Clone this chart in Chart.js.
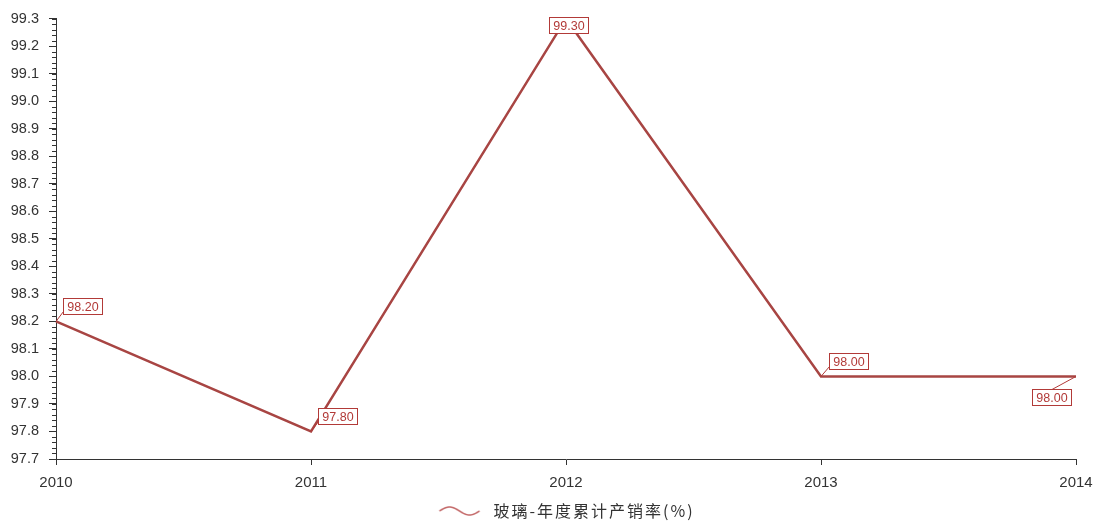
<!DOCTYPE html>
<html>
<head>
<meta charset="utf-8">
<script src="https://cdn.jsdelivr.net/npm/chart.js@4/dist/chart.umd.min.js"></script>
<style>
  html, body { margin: 0; padding: 0; background: #fff; }
  #wrap { width: 1097px; height: 522px; position: relative; }
</style>
</head>
<body>
<div id="wrap"><canvas id="c" width="1097" height="522"></canvas></div>
<script>
// Annual cumulative production-to-sales ratio of glass (%)
const years = ['2010', '2011', '2012', '2013', '2014'];
const salesRatio = [98.2, 97.8, 99.3, 98.0, 98.0];
const seriesName = '玻璃-年度累计产销率(%)';

const yMin = 97.7, yMax = 99.3, yStep = 0.1, yMinorStep = 0.02;

// where each value tag sits relative to its point (dx, dy of box centre)
const tagOffsets = [[26, -15], [26, -15], [2, 6], [27, -15], [-25, 21]];

const lineColor = '#a84543';
const tagColor = '#b23a38';
const axisColor = '#333333';
const baseFont = '"Liberation Sans", Arial, sans-serif';

// wavy legend glyph
function makeWave() {
  const c = document.createElement('canvas');
  c.width = 48; c.height = 14;
  const g = c.getContext('2d');
  g.strokeStyle = '#c46a6a';
  g.lineWidth = 1.6;
  g.beginPath();
  for (let x = 2; x <= 42; x++) {
    const y = 7 - 4 * Math.sin((x - 2) / 40 * Math.PI * 2);
    if (x === 2) g.moveTo(x, y); else g.lineTo(x, y);
  }
  g.stroke();
  return c;
}

// a little letter spacing for the legend text only
const legendSpacing = {
  id: 'legendSpacing',
  afterInit(chart) {
    const lg = chart.legend;
    if (!lg) return;
    const wrap = fn => function (...args) {
      const ctx = this.ctx;
      ctx.save();
      ctx.letterSpacing = '2px';
      const r = fn.apply(this, args);
      ctx.restore();
      return r;
    };
    lg.fit = wrap(lg.fit);
    lg.draw = wrap(lg.draw);
  }
};

const minorTicks = {
  id: 'minorTicks',
  afterDraw(chart) {
    const y = chart.scales.y;
    const ctx = chart.ctx;
    ctx.save();
    ctx.strokeStyle = axisColor;
    ctx.lineWidth = 1;
    const n = Math.round((yMax - yMin) / yMinorStep);
    for (let i = 0; i <= n; i++) {
      const py = Math.round(y.getPixelForValue(yMin + i * yMinorStep)) + 0.5;
      ctx.beginPath();
      ctx.moveTo(y.right - 4, py);
      ctx.lineTo(y.right, py);
      ctx.stroke();
    }
    ctx.restore();
  }
};

const valueTags = {
  id: 'valueTags',
  afterDatasetsDraw(chart) {
    const ctx = chart.ctx;
    const meta = chart.getDatasetMeta(0);
    const data = chart.data.datasets[0].data;
    ctx.save();
    ctx.font = '12.5px ' + baseFont;
    ctx.textAlign = 'center';
    ctx.textBaseline = 'middle';
    meta.data.forEach((pt, i) => {
      const text = data[i].toFixed(2);
      const [dx, dy] = tagOffsets[i];
      const cx = pt.x + dx, cy = pt.y + dy;
      const w = Math.ceil(ctx.measureText(text).width) + 7;
      const h = 16;
      const bx = Math.round(cx - w / 2) + 0.5, by = Math.round(cy - h / 2) + 0.5;
      // leader from the point to the box
      if (Math.abs(dx) > 8) {
        const lx = dx > 0 ? bx : bx + w / 2;
        const ly = dy < 0 ? by + h - 3 : by;
        ctx.strokeStyle = tagColor;
        ctx.lineWidth = 1;
        ctx.beginPath();
        ctx.moveTo(pt.x, pt.y);
        ctx.lineTo(lx, ly);
        ctx.stroke();
      }
      ctx.fillStyle = '#ffffff';
      ctx.fillRect(bx, by, w, h);
      ctx.strokeStyle = tagColor;
      ctx.lineWidth = 1;
      ctx.strokeRect(bx, by, w, h);
      ctx.fillStyle = tagColor;
      ctx.fillText(text, bx + w / 2, by + h / 2 + 1);
    });
    ctx.restore();
  }
};

new Chart(document.getElementById('c'), {
  type: 'line',
  data: {
    labels: years,
    datasets: [{
      label: seriesName,
      data: salesRatio,
      borderColor: lineColor,
      backgroundColor: lineColor,
      borderWidth: 2.5,
      tension: 0,
      pointRadius: 0,
      pointHoverRadius: 0,
      pointStyle: makeWave()
    }]
  },
  options: {
    responsive: false,
    animation: false,
    events: [],
    layout: { padding: { left: 0, right: 21, top: 17, bottom: -7 } },
    plugins: {
      tooltip: { enabled: false },
      legend: {
        position: 'bottom',
        fullSize: false,
        labels: {
          usePointStyle: true,
          pointStyleWidth: 48,
          color: axisColor,
          font: { family: '"Noto Sans CJK SC", ' + baseFont, size: 16 },
          padding: 3,
          boxHeight: 14
        }
      }
    },
    scales: {
      x: {
        type: 'category',
        offset: false,
        grid: { display: true, drawOnChartArea: false, drawTicks: true, tickLength: 6, color: axisColor },
        border: { display: true, color: axisColor, width: 1 },
        ticks: { color: axisColor, font: { family: baseFont, size: 15 }, padding: 9, maxRotation: 0 },
        afterFit(s) { s.height = 41; s.paddingLeft = 0; s.paddingRight = 0; }
      },
      y: {
        min: yMin,
        max: yMax,
        grid: { display: true, drawOnChartArea: false, drawTicks: true, tickLength: 7, color: axisColor },
        border: { display: true, color: axisColor, width: 1 },
        ticks: {
          stepSize: yStep,
          color: axisColor,
          font: { family: baseFont, size: 14.5 },
          padding: 10,
          callback: v => Number(v).toFixed(1)
        },
        afterFit(s) { s.width = 56; }
      }
    }
  },
  plugins: [legendSpacing, minorTicks, valueTags]
});
</script>
</body>
</html>
